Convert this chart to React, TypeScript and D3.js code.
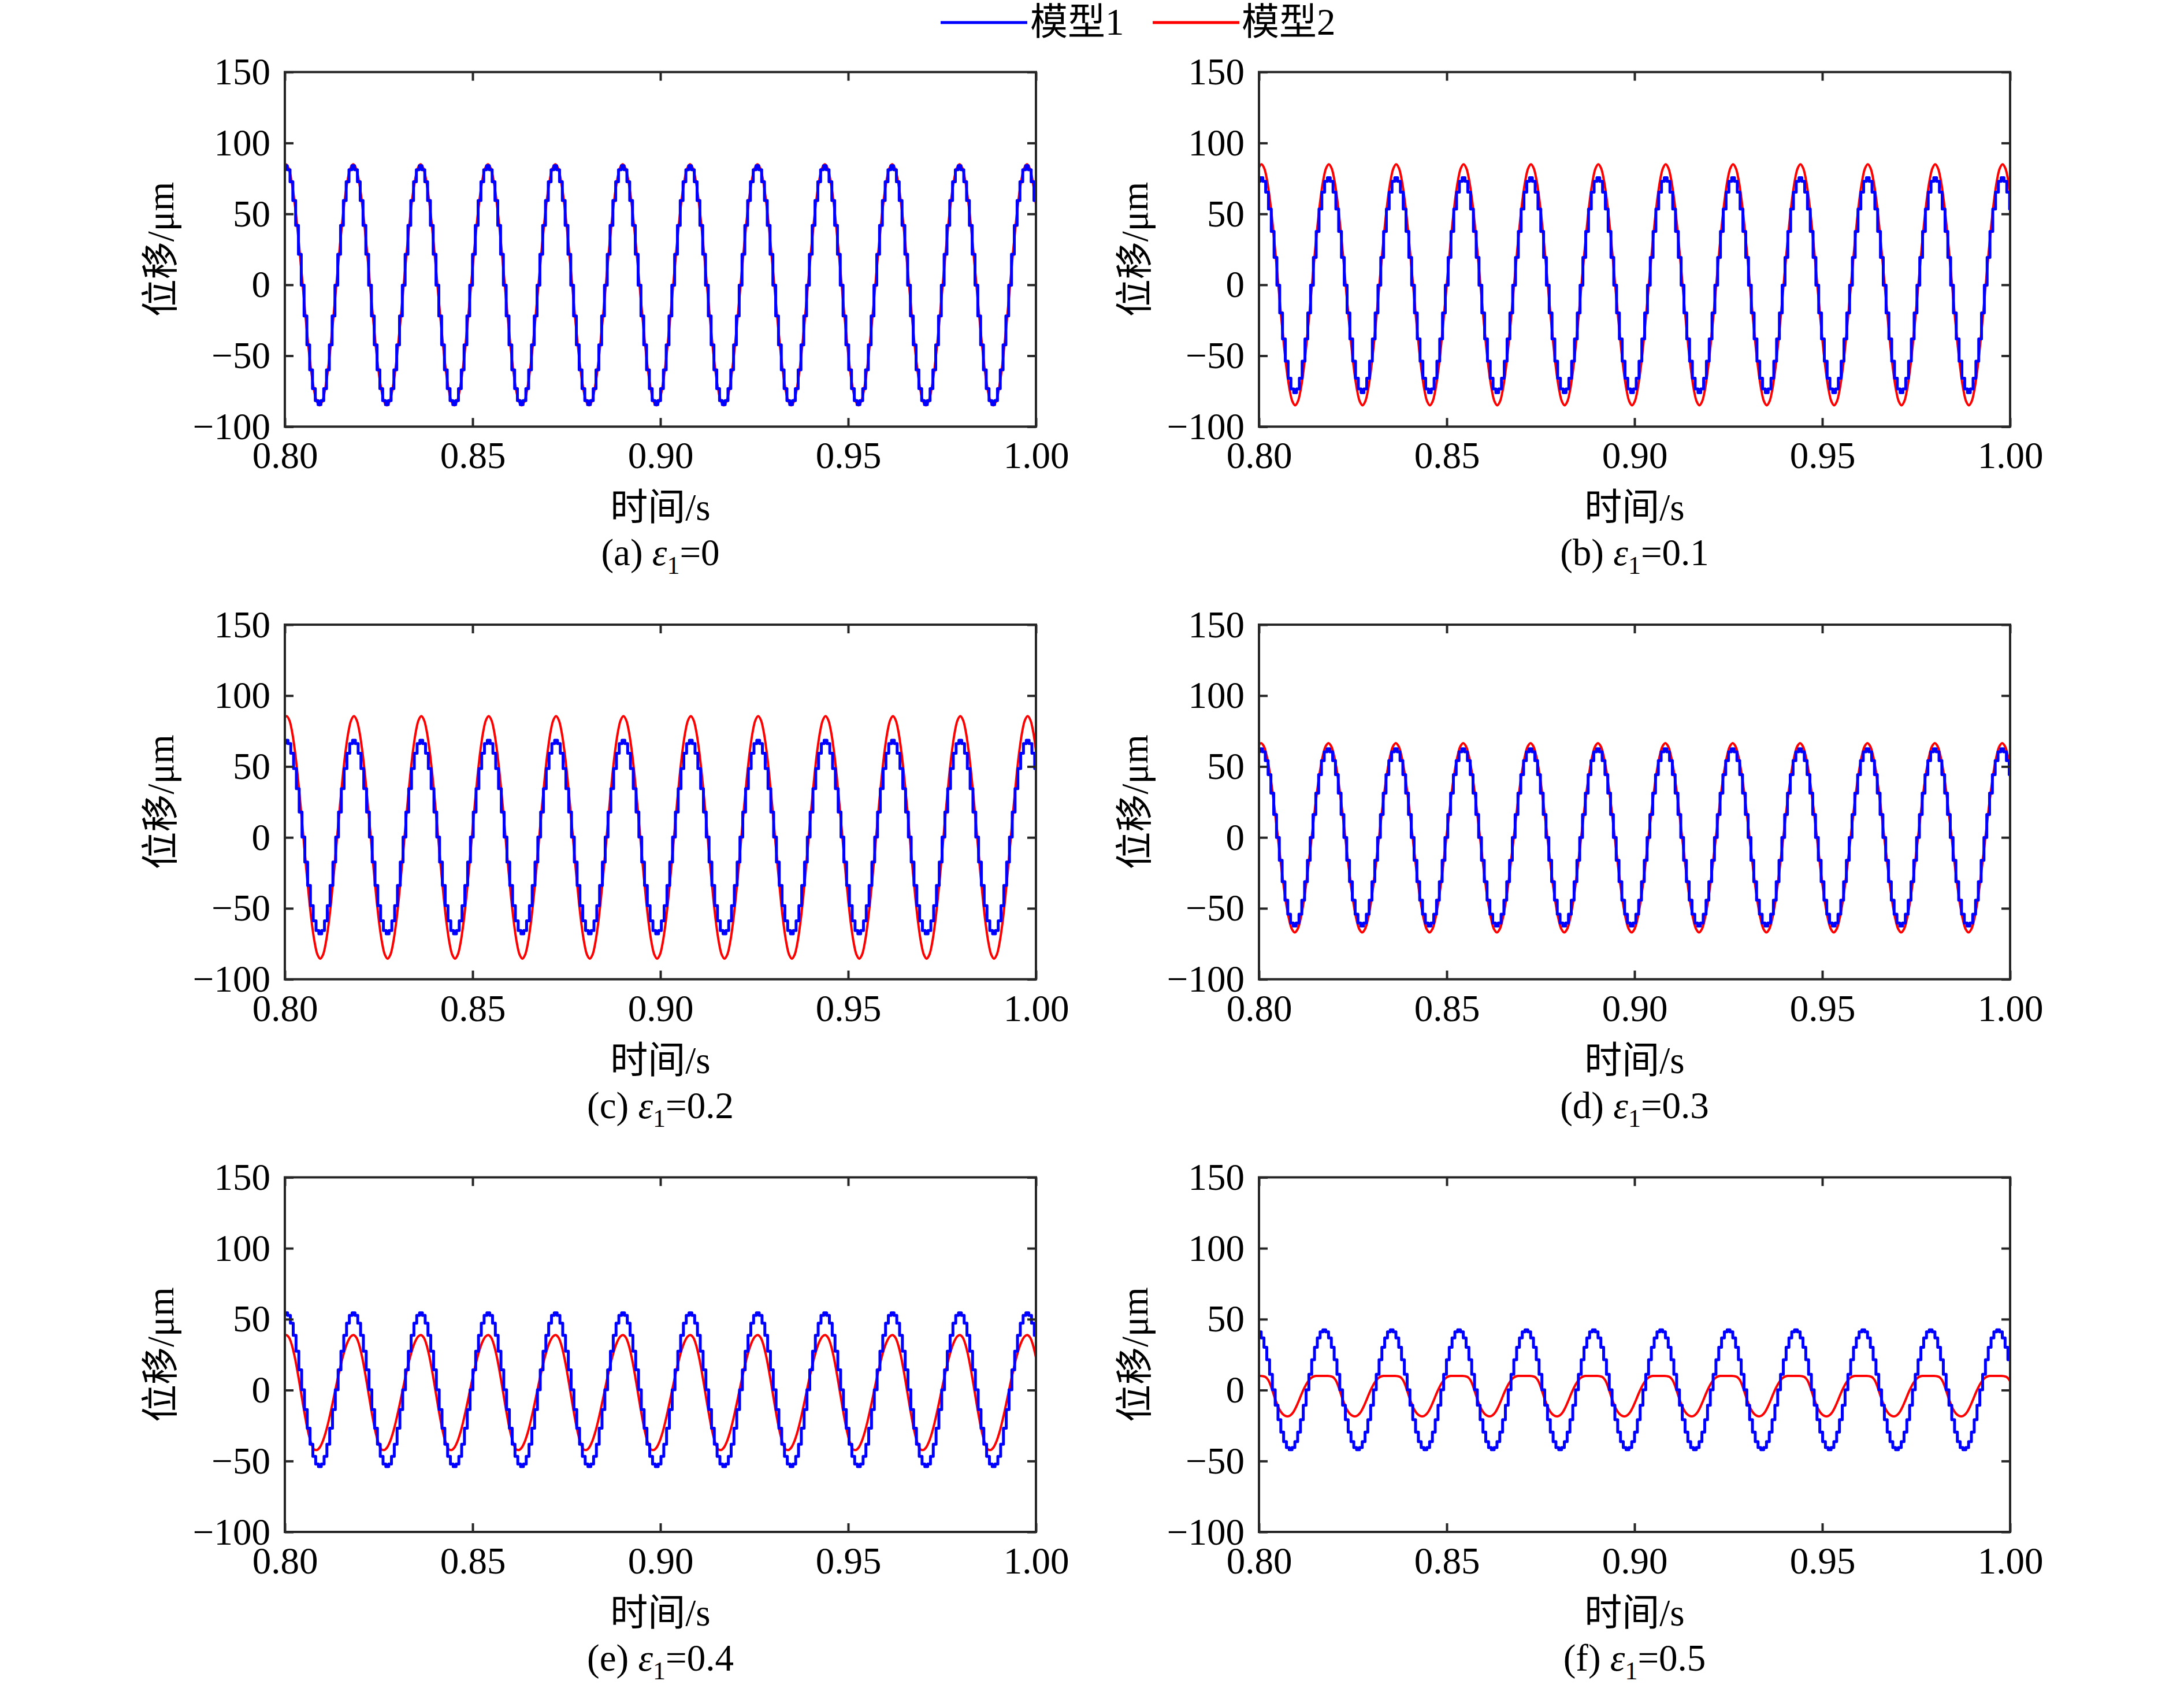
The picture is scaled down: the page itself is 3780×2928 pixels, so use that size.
import { useEffect, useRef } from 'react';
import * as d3 from 'd3';

// axis ticks
const X_TICKS = [0.8, 0.85, 0.9, 0.95, 1.0];
const Y_TICKS = [-100, -50, 0, 50, 100, 150];

// panel captions
const PANEL_TAGS = ['a', 'b', 'c', 'd', 'e', 'f'];
const EPSILON_VALUES = ['0', '0.1', '0.2', '0.3', '0.4', '0.5'];

// one period, starting at the crest, 24 samples,
// normalised so that 0 = trough and 1 = crest
const SINE_CYCLE = [1, 0.983, 0.933, 0.854, 0.75, 0.629, 0.5, 0.371, 0.25, 0.146, 0.067, 0.017,
  0, 0.017, 0.067, 0.146, 0.25, 0.371, 0.5, 0.629, 0.75, 0.854, 0.933, 0.983];
const SKEW_CYCLE = [1, 0.978, 0.915, 0.815, 0.687, 0.544, 0.397, 0.259, 0.141, 0.055, 0.008, 0.004,
  0.027, 0.077, 0.15, 0.243, 0.35, 0.465, 0.582, 0.694, 0.796, 0.882, 0.946, 0.987];
const FLAT_TOP_CYCLE = [1, 1, 0.995, 0.975, 0.9, 0.74, 0.53, 0.33, 0.17, 0.07, 0.015, 0,
  0.03, 0.11, 0.24, 0.4, 0.57, 0.72, 0.84, 0.93, 0.98, 1, 1, 1];

// period of the response (s) and time of the first crest in each panel
const PERIOD = 0.01794;
const CREST_TIME = [0.8182, 0.8186, 0.8184, 0.8185, 0.8183, 0.8174];

// 模型1 (blue, stepped) crest / trough per panel, µm
const MODEL1_CREST = [84, 75.5, 68.5, 62.5, 54.5, 42.5];
const MODEL1_TROUGH = [-84.5, -76, -68, -62.5, -54, -42];

// 模型2 (red, smooth) crest / trough per panel, µm
const MODEL2_CREST = [85, 85, 85.5, 66.5, 38.8, 10];
const MODEL2_TROUGH = [-85, -85, -85.5, -67, -42.5, -18.5];
const MODEL2_CYCLE = [SINE_CYCLE, SINE_CYCLE, SINE_CYCLE, SINE_CYCLE, SKEW_CYCLE, FLAT_TOP_CYCLE];

const WIDTH = 3780;
const HEIGHT = 2928;
const PLOT_W = 1300;
const PLOT_H = 613.6;
const COL_X = [493, 2179];
const ROW_Y = [124.7, 1081, 2037.4];
const FONT = "'Liberation Serif', 'Times New Roman', 'Noto Sans CJK SC', serif";
const FS = 65;
const AXIS_COLOR = '#262626';

type Pt = [number, number];

function tileCycle(crestTime: number, crest: number, trough: number, cycle: number[]): Pt[] {
  const pts: Pt[] = [];
  const n = cycle.length;
  for (let c = -2; c <= 12; c++) {
    for (let k = 0; k < n; k++) {
      const t = crestTime + (c + k / n) * PERIOD;
      if (t < 0.8 - PERIOD / 6 || t > 1.0 + PERIOD / 6) continue;
      pts.push([t, trough + cycle[k] * (crest - trough)]);
    }
  }
  return pts;
}

const App = () => {
  const svgRef = useRef<SVGSVGElement | null>(null);

  useEffect(() => {
    const svg = d3.select(svgRef.current);
    svg.selectAll('*').remove();

    const x = d3.scaleLinear().domain([0.8, 1.0]).range([0, PLOT_W]);
    const y = d3.scaleLinear().domain([-100, 150]).range([PLOT_H, 0]);

    const smooth = d3.line<Pt>().x((d) => x(d[0])).y((d) => y(d[1])).curve(d3.curveCatmullRom);
    const stepped = d3.line<Pt>().x((d) => x(d[0])).y((d) => y(d[1])).curve(d3.curveStep);

    // legend
    const legend = svg.append('g').attr('font-family', FONT).attr('font-size', FS);
    legend.append('line').attr('x1', 1628).attr('x2', 1778).attr('y1', 39).attr('y2', 39)
      .attr('stroke', '#0000ff').attr('stroke-width', 5);
    legend.append('text').attr('x', 1783).attr('y', 60).text('模型1');
    legend.append('line').attr('x1', 1995).attr('x2', 2145).attr('y1', 39).attr('y2', 39)
      .attr('stroke', '#ff0000').attr('stroke-width', 5);
    legend.append('text').attr('x', 2149).attr('y', 60).text('模型2');

    PANEL_TAGS.forEach((tag, i) => {
      const col = i % 2;
      const row = Math.floor(i / 2);
      const g = svg.append('g')
        .attr('transform', `translate(${COL_X[col]},${ROW_Y[row]})`)
        .attr('font-family', FONT);

      const clipId = `clip-${tag}`;
      g.append('clipPath').attr('id', clipId)
        .append('rect').attr('width', PLOT_W).attr('height', PLOT_H);

      const lines = g.append('g').attr('clip-path', `url(#${clipId})`);
      const red = tileCycle(CREST_TIME[i], MODEL2_CREST[i], MODEL2_TROUGH[i], MODEL2_CYCLE[i]);
      const blue = tileCycle(CREST_TIME[i], MODEL1_CREST[i], MODEL1_TROUGH[i], SINE_CYCLE);

      lines.append('path').attr('d', smooth(red)).attr('fill', 'none')
        .attr('stroke', '#ff0000').attr('stroke-width', 4).attr('stroke-linejoin', 'round');
      lines.append('path').attr('d', stepped(blue)).attr('fill', 'none')
        .attr('stroke', '#0000ff').attr('stroke-width', 5).attr('stroke-linejoin', 'round');

      // axes: ticks point inwards on all four sides
      const bottom = g.append('g').attr('transform', `translate(0,${PLOT_H})`)
        .call(d3.axisBottom(x).tickValues(X_TICKS).tickSize(-15).tickFormat(d3.format('.2f')));
      const top = g.append('g')
        .call(d3.axisTop(x).tickValues(X_TICKS).tickSize(-15).tickFormat(() => ''));
      const left = g.append('g')
        .call(d3.axisLeft(y).tickValues(Y_TICKS).tickSize(-15).tickFormat(d3.format('d')));
      const right = g.append('g').attr('transform', `translate(${PLOT_W},0)`)
        .call(d3.axisRight(y).tickValues(Y_TICKS).tickSize(-15).tickFormat(() => ''));

      [bottom, top, left, right].forEach((a) => {
        a.attr('font-family', FONT).attr('font-size', FS);
        a.select('.domain').remove();
        a.selectAll('.tick line').attr('stroke', AXIS_COLOR).attr('stroke-width', 4);
        a.selectAll('.tick text').attr('fill', '#000');
      });
      bottom.selectAll('.tick text').attr('y', 72).attr('dy', 0);
      left.selectAll('.tick text').attr('x', -25).attr('dy', 21);

      g.append('rect').attr('width', PLOT_W).attr('height', PLOT_H).attr('fill', 'none')
        .attr('stroke', AXIS_COLOR).attr('stroke-width', 4);

      // axis titles
      g.append('text').attr('transform', `translate(-193,${PLOT_H / 2}) rotate(-90)`)
        .attr('text-anchor', 'middle').attr('font-size', FS).text('位移/μm');
      g.append('text').attr('x', PLOT_W / 2).attr('y', PLOT_H + 162)
        .attr('text-anchor', 'middle').attr('font-size', FS).text('时间/s');

      // caption
      const cap = g.append('text').attr('x', PLOT_W / 2).attr('y', PLOT_H + 240)
        .attr('text-anchor', 'middle').attr('font-size', FS);
      cap.append('tspan').text(`(${tag}) `);
      cap.append('tspan').attr('font-style', 'italic').text('ε');
      cap.append('tspan').attr('font-size', 44).attr('dy', 15).text('1');
      cap.append('tspan').attr('dy', -15).text(`=${EPSILON_VALUES[i]}`);
    });
  }, []);

  return (
    <svg
      ref={svgRef}
      width={WIDTH}
      height={HEIGHT}
      style={{ position: 'absolute', left: 0, top: 0, background: '#fff' }}
    />
  );
};

export default App;
